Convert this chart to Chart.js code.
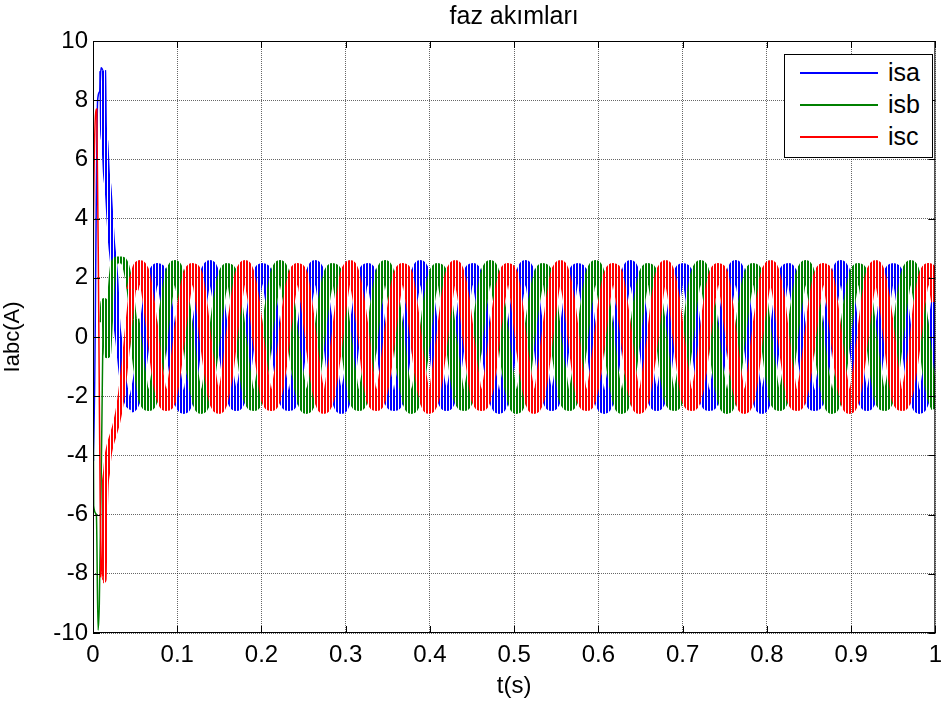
<!DOCTYPE html>
<html>
<head>
<meta charset="utf-8">
<script src="https://cdn.jsdelivr.net/npm/chart.js@4.4.1/dist/chart.umd.min.js"></script>
<style>
  html, body { margin: 0; padding: 0; background: #fff; }
  #wrap { position: relative; width: 950px; height: 705px; }
  #legend {
    position: absolute; left: 784px; top: 54px; width: 149px; height: 104px;
    border: 1px solid #000; background: #fff; box-sizing: border-box;
    font-family: "Liberation Sans", Arial, sans-serif; font-size: 25px; color: #000;
  }
  #legend .row { position: absolute; left: 0; width: 100%; height: 0; }
  #legend .ln { position: absolute; left: 15px; width: 78px; top: -1px; height: 2px; }
  #legend .tx { position: absolute; left: 103px; top: -15px; line-height: 28px; }
</style>
</head>
<body>
<div id="wrap">
  <canvas id="myChart" width="950" height="705"></canvas>
  <div id="legend"></div>
</div>
<script>
// series
const seriesNames = ["isa", "isb", "isc"];
const seriesColors = ["#0000ff", "#008000", "#ff0000"];
const legendColors = ["#0000ff", "#008000", "#ff0000"];

// axes
const xTicks = [0, 0.1, 0.2, 0.3, 0.4, 0.5, 0.6, 0.7, 0.8, 0.9, 1];
const yTicks = [-10, -8, -6, -4, -2, 0, 2, 4, 6, 8, 10];

// =============================
// start-up transient, t in s
// =============================
const tStartA = [0, 0.0006, 0.0055, 0.008, 0.0095, 0.0115, 0.0125, 0.014, 0.016, 0.018, 0.020, 0.022, 0.026, 0.028, 0.031, 0.035, 0.040, 0.045];
const isaStart = [0, -4.2, 8.0, 8.3, 9.1, 9.0, 7.0, 6.6, 5.5, 5.0, 4.05, 3.2, 1.95, 0.6, -0.2, -1.3, -2.1, -2.35];

const tStartB = [0, 0.0008, 0.004, 0.006, 0.0075, 0.0105, 0.012, 0.0135, 0.015, 0.017, 0.0195, 0.022, 0.025, 0.029, 0.034, 0.039, 0.044, 0.048];
const isbStart = [0, -5.7, -6.0, -9.9, -9.0, -3.0, 0.5, 1.2, 0.3, -0.6, 0.5, 1.7, 2.5, 2.6, 2.6, 2.4, 1.6, 0.6];

const tStartC = [0, 0.0005, 0.0045, 0.007, 0.0085, 0.012, 0.013, 0.0145, 0.016, 0.018, 0.020, 0.024, 0.028, 0.032, 0.036, 0.040, 0.0435, 0.047];
const iscStart = [0, 3.7, 7.7, 0.0, -5.5, -8.2, -6.5, -5.0, -4.6, -4.0, -3.7, -3.3, -2.9, -2.3, -1.4, -0.3, 0.7, 1.6];

// =============================
// steady state, sampled every tStep from tSteady0
// =============================
const tSteady0 = 0.0505;
const tStep = 0.0052;

const isaSteady = [
  -2.0, -1.2, 0.0, 1.2, 2.0, 2.3, 2.1, 1.2, 0.0, -1.2, -2.1, -2.4,
  -2.1, -1.2, 0.1, 1.2, 2.1, 2.4, 2.0, 1.2, -0.1, -1.2, -2.0, -2.3,
  -2.0, -1.2, 0.0, 1.2, 2.1, 2.3, 2.1, 1.2, 0.0, -1.2, -2.1, -2.3,
  -2.1, -1.2, 0.0, 1.2, 2.0, 2.4, 2.1, 1.2, 0.1, -1.2, -2.0, -2.4,
  -2.0, -1.2, 0.1, 1.2, 2.1, 2.3, 2.0, 1.2, 0.0, -1.2, -2.1, -2.3,
  -2.1, -1.2, 0.0, 1.2, 2.0, 2.4, 2.1, 1.2, 0.0, -1.2, -2.0, -2.3,
  -2.0, -1.2, 0.0, 1.2, 2.1, 2.3, 2.0, 1.2, -0.1, -1.2, -2.1, -2.4,
  -2.1, -1.2, 0.1, 1.2, 2.0, 2.4, 2.1, 1.2, 0.0, -1.2, -2.0, -2.3,
  -2.0, -1.2, 0.0, 1.2, 2.1, 2.3, 2.1, 1.2, 0.0, -1.2, -2.1, -2.4,
  -2.1, -1.2, 0.0, 1.2, 2.0, 2.4, 2.0, 1.2, 0.1, -1.2, -2.0, -2.3,
  -2.0, -1.2, 0.1, 1.2, 2.1, 2.3, 2.1, 1.2, 0.0, -1.2, -2.1, -2.3,
  -2.1, -1.2, 0.0, 1.2, 2.0, 2.4, 2.1, 1.2, 0.0, -1.2, -2.0, -2.4,
  -2.0, -1.2, 0.0, 1.2, 2.1, 2.3, 2.0, 1.2, -0.1, -1.2, -2.1, -2.3,
  -2.1, -1.2, 0.1, 1.2, 2.0, 2.4, 2.1, 1.2, 0.0, -1.2, -2.0, -2.3,
  -2.0, -1.2, 0.0, 1.2, 2.1, 2.3, 2.1, 1.2, 0.0, -1.2, -2.1, -2.4,
  -2.1, -1.2, 0.0, 1.2
];

const isbSteady = [
  0.0, -1.2, -2.1, -2.3, -2.0, -1.2, 0.0, 1.2, 2.1, 2.4, 2.0, 1.2,
  0.1, -1.2, -2.0, -2.4, -2.1, -1.2, 0.0, 1.2, 2.0, 2.3, 2.1, 1.2,
  0.0, -1.2, -2.1, -2.3, -2.0, -1.2, 0.1, 1.2, 2.1, 2.4, 2.0, 1.2,
  -0.1, -1.2, -2.0, -2.4, -2.1, -1.2, 0.0, 1.2, 2.0, 2.3, 2.1, 1.2,
  0.0, -1.2, -2.1, -2.3, -2.0, -1.2, 0.0, 1.2, 2.1, 2.4, 2.0, 1.2,
  0.1, -1.2, -2.0, -2.4, -2.1, -1.2, -0.1, 1.2, 2.0, 2.3, 2.1, 1.2,
  0.0, -1.2, -2.1, -2.3, -2.0, -1.2, 0.0, 1.2, 2.1, 2.4, 2.0, 1.2,
  0.0, -1.2, -2.0, -2.4, -2.1, -1.2, 0.1, 1.2, 2.0, 2.3, 2.1, 1.2,
  -0.1, -1.2, -2.1, -2.3, -2.0, -1.2, 0.0, 1.2, 2.1, 2.4, 2.0, 1.2,
  0.0, -1.2, -2.0, -2.4, -2.1, -1.2, 0.0, 1.2, 2.0, 2.3, 2.1, 1.2,
  0.1, -1.2, -2.1, -2.3, -2.0, -1.2, -0.1, 1.2, 2.1, 2.4, 2.0, 1.2,
  0.0, -1.2, -2.0, -2.4, -2.1, -1.2, 0.0, 1.2, 2.0, 2.3, 2.1, 1.2,
  0.0, -1.2, -2.1, -2.3, -2.0, -1.2, 0.1, 1.2, 2.1, 2.4, 2.0, 1.2,
  -0.1, -1.2, -2.0, -2.4, -2.1, -1.2, 0.0, 1.2, 2.0, 2.3, 2.1, 1.2,
  0.0, -1.2, -2.1, -2.3, -2.0, -1.2, 0.0, 1.2, 2.1, 2.4, 2.0, 1.2,
  0.1, -1.2, -2.0, -2.4
];

const iscSteady = [
  2.0, 2.4, 2.1, 1.2, 0.0, -1.2, -2.0, -2.3, -2.1, -1.2, 0.0, 1.2,
  2.0, 2.3, 2.1, 1.2, -0.1, -1.2, -2.1, -2.4, -2.0, -1.2, 0.1, 1.2,
  2.1, 2.4, 2.0, 1.2, 0.0, -1.2, -2.1, -2.3, -2.0, -1.2, 0.0, 1.2,
  2.0, 2.3, 2.1, 1.2, 0.0, -1.2, -2.0, -2.4, -2.1, -1.2, -0.1, 1.2,
  2.1, 2.4, 2.0, 1.2, 0.1, -1.2, -2.1, -2.3, -2.0, -1.2, 0.0, 1.2,
  2.0, 2.3, 2.1, 1.2, 0.0, -1.2, -2.0, -2.4, -2.1, -1.2, 0.0, 1.2,
  2.1, 2.4, 2.0, 1.2, 0.0, -1.2, -2.1, -2.3, -2.0, -1.2, 0.1, 1.2,
  2.0, 2.3, 2.1, 1.2, -0.1, -1.2, -2.0, -2.4, -2.1, -1.2, 0.0, 1.2,
  2.1, 2.4, 2.0, 1.2, 0.0, -1.2, -2.1, -2.3, -2.0, -1.2, 0.0, 1.2,
  2.0, 2.3, 2.1, 1.2, 0.1, -1.2, -2.0, -2.4, -2.1, -1.2, -0.1, 1.2,
  2.1, 2.4, 2.0, 1.2, 0.0, -1.2, -2.1, -2.3, -2.0, -1.2, 0.0, 1.2,
  2.0, 2.3, 2.1, 1.2, 0.0, -1.2, -2.0, -2.4, -2.1, -1.2, 0.1, 1.2,
  2.1, 2.4, 2.0, 1.2, -0.1, -1.2, -2.1, -2.3, -2.0, -1.2, 0.0, 1.2,
  2.0, 2.3, 2.1, 1.2, 0.0, -1.2, -2.0, -2.4, -2.1, -1.2, 0.0, 1.2,
  2.1, 2.4, 2.0, 1.2, 0.1, -1.2, -2.1, -2.3, -2.0, -1.2, -0.1, 1.2,
  2.0, 2.3, 2.1, 1.2
];

// spikes before thinUntil are thin; the decay up to rippleFrom is a narrower band
const thinUntil = 0.0115;
const rippleFrom = 0.045;

function buildPoints(tStart, vStart, vSteady){
    const pts = tStart.map((t, i) => ({ x: t, y: vStart[i] }));
    vSteady.forEach((v, i) => pts.push({ x: tSteady0 + i * tStep, y: v }));
    return pts;
}

const pointSets = [
    buildPoints(tStartA, isaStart, isaSteady),
    buildPoints(tStartB, isbStart, isbSteady),
    buildPoints(tStartC, iscStart, iscSteady)
];

// vertical stripes, to look like the PWM ripple of the currents
function stripes(color){
    const c = document.createElement("canvas");
    c.width = 3; c.height = 1;
    const g = c.getContext("2d");
    g.fillStyle = color;
    g.fillRect(0, 0, 2, 1);
    return g.createPattern(c, "repeat");
}
const seriesStripes = seriesColors.map(stripes);

const fontFamily = '"Liberation Sans", Arial, sans-serif';

// legend box (MATLAB style, inside the axes)
const legendEl = document.getElementById("legend");
seriesNames.forEach((name, i) => {
    const row = document.createElement("div");
    row.className = "row";
    row.style.top = (18 + i * 32) + "px";
    row.innerHTML = '<span class="ln" style="background:' + legendColors[i] + '"></span><span class="tx">' + name + '</span>';
    legendEl.appendChild(row);
});

// frame + inward ticks on all four sides
const framePlugin = {
    id: "frame",
    afterDraw(chart){
        const { ctx, chartArea: a, scales } = chart;
        ctx.save();
        ctx.strokeStyle = "#000";
        ctx.lineWidth = 1;
        ctx.strokeRect(a.left + 0.5, a.top + 0.5, a.right - a.left - 1, a.bottom - a.top - 1);
        ctx.beginPath();
        xTicks.forEach(v => {
            const x = Math.round(scales.x.getPixelForValue(v)) + 0.5;
            ctx.moveTo(x, a.bottom); ctx.lineTo(x, a.bottom - 7);
            ctx.moveTo(x, a.top); ctx.lineTo(x, a.top + 7);
        });
        yTicks.forEach(v => {
            const y = Math.round(scales.y.getPixelForValue(v)) + 0.5;
            ctx.moveTo(a.left, y); ctx.lineTo(a.left + 7, y);
            ctx.moveTo(a.right, y); ctx.lineTo(a.right - 7, y);
        });
        ctx.stroke();
        ctx.restore();
    }
};

const gridOpts = { color: "rgba(0,0,0,0.6)", lineWidth: 1, drawTicks: false };
const borderOpts = { display: false, dash: [1, 1] };

new Chart(document.getElementById("myChart"), {
    type: "line",
    data: {
        datasets: seriesNames.map((name, i) => ({
            label: name,
            data: pointSets[i],
            borderColor: seriesColors[i],
            backgroundColor: seriesColors[i],
            pointRadius: 0,
            fill: false,
            cubicInterpolationMode: "monotone",
            order: 2 - i,
            segment: {
                borderWidth: ctx => ctx.p0.parsed.x < thinUntil ? 1.5 : (ctx.p0.parsed.x < rippleFrom ? 7 : 12),
                borderColor: ctx => ctx.p0.parsed.x < thinUntil ? seriesColors[i] : seriesStripes[i]
            }
        }))
    },
    options: {
        responsive: false,
        animation: false,
        devicePixelRatio: 1,
        layout: { padding: { left: 0, right: 7, top: 0, bottom: 0 } },
        plugins: {
            legend: { display: false },
            tooltip: { enabled: false },
            title: {
                display: true,
                text: "faz akımları",
                fullSize: false,
                color: "#000",
                font: { family: fontFamily, size: 25, weight: "normal" },
                padding: { top: 2, bottom: 9 }
            }
        },
        scales: {
            x: {
                type: "linear",
                min: 0,
                max: 1,
                afterBuildTicks: s => { s.ticks = xTicks.map(v => ({ value: v })); },
                ticks: {
                    color: "#000",
                    font: { family: fontFamily, size: 24 },
                    padding: 8,
                    maxRotation: 0,
                    autoSkip: false,
                    callback: v => String(+v.toFixed(1))
                },
                grid: gridOpts,
                border: borderOpts,
                title: {
                    display: true,
                    text: "t(s)",
                    color: "#000",
                    font: { family: fontFamily, size: 24 },
                    padding: { top: 0, bottom: 4 }
                },
                afterFit: s => { s.height = 72; }
            },
            y: {
                min: -10,
                max: 10,
                afterBuildTicks: s => { s.ticks = yTicks.map(v => ({ value: v })); },
                ticks: {
                    color: "#000",
                    font: { family: fontFamily, size: 24 },
                    padding: 5
                },
                grid: gridOpts,
                border: borderOpts,
                title: {
                    display: true,
                    text: "Iabc(A)",
                    color: "#000",
                    font: { family: fontFamily, size: 22 },
                    padding: { top: 0, bottom: 0 }
                },
                afterFit: s => { s.width = 93; }
            }
        }
    },
    plugins: [framePlugin]
});
</script>
</body>
</html>
